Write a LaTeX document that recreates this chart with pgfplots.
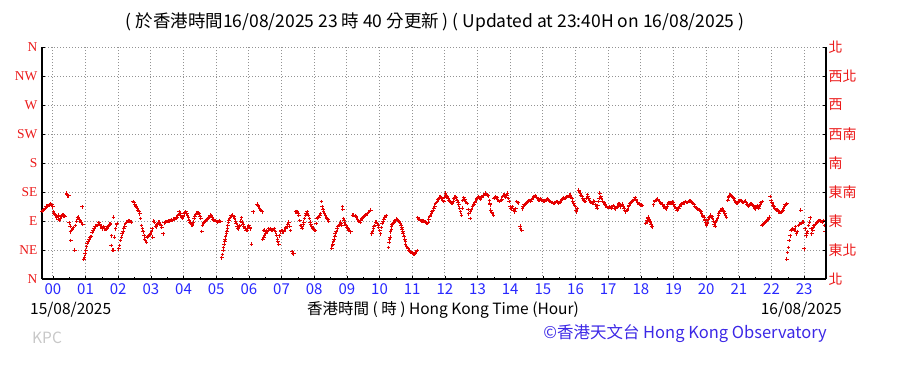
\documentclass[border=0pt]{standalone}
\usepackage{pgfplots}
\pgfplotsset{compat=1.18}
\usepackage{fontspec}
\setmainfont{Liberation Sans}
\newfontfamily\cjk{Noto Sans CJK TC}
\newfontfamily\ser{Liberation Serif}
\definecolor{hkred}{RGB}{228,0,0}
\definecolor{lblred}{RGB}{235,25,25}
\definecolor{hkblue}{RGB}{40,40,255}
\definecolor{cpblue}{RGB}{60,40,230}
\definecolor{kpc}{RGB}{200,200,200}
\pgfplotstableread{
h d
-0.33 105
-0.30 106
-0.27 108
-0.24 110
-0.21 112
-0.18 113
-0.15 113
-0.12 114
-0.09 115
-0.06 116
-0.03 115
0.00 112
0.02 105
0.04 101
0.06 100
0.08 99
0.10 98
0.12 95
0.14 97
0.16 99
0.18 93
0.20 91
0.22 94
0.25 97
0.28 99
0.31 100
0.34 98
0.37 97
0.42 133
0.44 131
0.46 129
0.49 129
0.50 87
0.53 82
0.54 73
0.55 60
0.57 76
0.60 77
0.63 80
0.67 45
0.69 83
0.72 90
0.75 95
0.78 96
0.81 93
0.84 90
0.87 88
0.90 112
0.92 85
0.95 31
0.97 34
0.99 39
1.01 44
1.03 50
1.05 55
1.08 58
1.11 62
1.14 65
1.17 66
1.20 72
1.23 75
1.26 78
1.29 81
1.32 82
1.36 83
1.39 85
1.41 87
1.44 85
1.46 83
1.49 80
1.51 78
1.54 80
1.56 81
1.59 78
1.61 77
1.64 78
1.66 79
1.69 81
1.71 83
1.74 85
1.77 86
1.78 52
1.80 67
1.82 45
1.84 45
1.85 96
1.87 45
1.89 65
1.92 78
1.95 84
1.97 86
2.02 47
2.04 52
2.07 60
2.10 65
2.12 70
2.15 74
2.17 78
2.20 82
2.22 86
2.25 88
2.28 89
2.31 90
2.33 91
2.36 90
2.38 89
2.41 88
2.46 120
2.49 118
2.51 115
2.54 113
2.56 112
2.59 109
2.61 107
2.64 104
2.66 101
2.68 94
2.71 83
2.74 78
2.76 73
2.79 67
2.81 62
2.84 60
2.86 57
2.89 65
2.91 66
2.94 67
2.97 69
2.99 70
3.02 74
3.04 78
3.06 65
3.08 90
3.11 88
3.14 82
3.16 81
3.19 84
3.21 86
3.24 88
3.26 88
3.29 85
3.31 83
3.34 80
3.38 70
3.41 87
3.44 88
3.46 88
3.49 89
3.51 89
3.54 90
3.56 90
3.59 91
3.61 91
3.64 92
3.66 91
3.69 93
3.72 93
3.74 94
3.77 94
3.79 96
3.82 96
3.84 100
3.87 104
3.90 101
3.92 99
3.95 96
3.97 94
4.00 97
4.02 101
4.05 103
4.07 104
4.10 102
4.12 99
4.15 95
4.17 91
4.20 88
4.22 86
4.25 84
4.27 83
4.30 88
4.32 94
4.35 97
4.38 100
4.40 102
4.43 103
4.45 102
4.48 101
4.51 97
4.53 94
4.56 74
4.58 83
4.61 86
4.63 88
4.66 90
4.68 91
4.71 92
4.73 93
4.76 95
4.78 96
4.81 98
4.83 99
4.86 98
4.88 96
4.91 93
4.93 91
4.96 91
4.98 91
5.01 89
5.04 88
5.06 89
5.09 91
5.11 90
5.14 89
5.17 33
5.19 38
5.21 44
5.22 49
5.24 54
5.26 58
5.27 62
5.29 66
5.31 70
5.33 74
5.34 78
5.36 83
5.37 88
5.39 91
5.41 94
5.44 96
5.46 98
5.49 99
5.51 99
5.54 97
5.56 94
5.59 90
5.61 86
5.64 82
5.66 79
5.68 78
5.70 81
5.72 83
5.74 90
5.77 95
5.80 88
5.82 85
5.85 81
5.87 80
5.90 78
5.92 76
5.95 75
5.97 79
6.00 83
6.03 80
6.05 78
6.08 54
6.13 104
6.25 116
6.28 114
6.30 112
6.33 110
6.36 108
6.38 106
6.41 104
6.43 62
6.46 65
6.48 67
6.51 70
6.53 73
6.46 75
6.49 76
6.54 75
6.56 73
6.59 76
6.61 78
6.64 77
6.66 78
6.69 76
6.71 75
6.74 77
6.77 78
6.79 76
6.82 73
6.84 68
6.87 62
6.89 58
6.92 54
6.94 67
6.97 73
6.99 75
7.02 75
7.04 73
7.07 73
7.09 76
7.12 78
7.14 80
7.17 81
7.19 84
7.22 88
7.25 82
7.27 75
7.32 42
7.35 40
7.38 39
7.43 104
7.46 105
7.48 104
7.51 101
7.53 99
7.56 91
7.58 83
7.61 81
7.63 79
7.66 84
7.68 88
7.70 94
7.73 99
7.75 102
7.78 104
7.80 102
7.83 99
7.85 94
7.88 88
7.90 85
7.93 81
7.95 79
7.98 78
8.01 76
8.04 75
8.06 86
8.09 94
8.11 95
8.14 96
8.17 99
8.19 101
8.22 120
8.24 112
8.27 108
8.29 104
8.32 101
8.34 99
8.37 96
8.39 94
8.42 92
8.44 90
8.54 48
8.56 52
8.57 54
8.59 58
8.61 62
8.63 66
8.64 70
8.67 74
8.70 78
8.72 81
8.75 83
8.77 85
8.80 88
8.82 86
8.85 83
8.87 112
8.88 108
8.90 94
8.92 91
8.93 88
8.96 85
8.98 83
9.01 80
9.03 78
9.05 76
9.08 75
9.10 74
9.12 73
9.18 99
9.21 99
9.25 98
9.28 97
9.30 96
9.33 93
9.36 91
9.38 89
9.41 88
9.43 91
9.46 94
9.48 95
9.51 96
9.53 97
9.56 99
9.59 100
9.63 101
9.66 103
9.69 105
9.71 106
9.73 107
9.76 70
9.78 74
9.81 78
9.83 81
9.86 83
9.88 88
9.91 88
9.93 86
9.96 83
9.98 80
10.01 75
10.03 70
10.06 80
10.08 86
10.11 90
10.13 93
10.16 96
10.18 97
10.21 98
10.27 49
10.29 57
10.31 62
10.32 65
10.34 73
10.36 77
10.37 81
10.39 84
10.41 86
10.44 88
10.46 89
10.49 91
10.51 93
10.54 92
10.56 91
10.59 89
10.61 88
10.64 86
10.66 83
10.68 80
10.69 77
10.71 73
10.72 70
10.75 66
10.77 62
10.79 58
10.80 54
10.83 51
10.85 49
10.88 47
10.90 45
10.93 43
10.95 42
10.98 41
11.00 40
11.03 39
11.05 39
11.08 39
11.10 40
11.13 42
11.15 44
11.17 95
11.20 93
11.23 93
11.26 91
11.28 90
11.31 89
11.33 91
11.36 90
11.38 89
11.41 88
11.44 87
11.46 86
11.49 88
11.51 93
11.54 97
11.56 99
11.59 102
11.61 104
11.64 107
11.66 109
11.69 113
11.71 117
11.74 119
11.77 121
11.79 123
11.82 125
11.84 127
11.87 128
11.89 126
11.92 125
11.94 122
11.97 120
12.00 127
12.02 133
12.05 130
12.07 128
12.10 125
12.12 122
12.15 121
12.17 120
12.20 118
12.22 117
12.25 121
12.28 125
12.30 127
12.33 128
12.35 126
12.38 122
12.41 118
12.43 115
12.46 110
12.48 104
12.51 99
12.53 110
12.55 122
12.58 126
12.61 123
12.63 121
12.66 119
12.68 117
12.71 108
12.73 101
12.77 94
12.79 104
12.82 108
12.84 112
12.87 114
12.89 115
12.92 118
12.94 120
12.97 123
12.99 125
13.02 127
13.04 128
13.07 126
13.09 124
13.12 126
13.14 128
13.17 129
13.19 130
13.22 131
13.24 133
13.27 131
13.30 130
13.32 129
13.34 129
13.36 122
13.38 117
13.39 115
13.41 107
13.44 103
13.46 101
13.49 99
13.51 125
13.54 127
13.56 128
13.59 126
13.61 124
13.64 122
13.66 120
13.69 122
13.72 122
13.74 124
13.77 128
13.79 130
13.82 130
13.85 129
13.87 127
13.90 130
13.92 133
13.95 125
13.97 120
14.00 112
14.02 110
14.04 109
14.07 112
14.10 107
14.12 106
14.14 104
14.17 109
14.20 120
14.22 119
14.24 118
14.30 82
14.32 78
14.36 75
14.38 109
14.40 112
14.43 115
14.46 116
14.48 117
14.51 118
14.53 120
14.56 121
14.58 122
14.61 121
14.63 120
14.66 123
14.68 125
14.71 127
14.73 128
14.76 129
14.78 129
14.81 127
14.83 125
14.86 124
14.88 122
14.91 123
14.93 124
14.96 123
14.98 122
15.01 121
15.04 121
15.06 122
15.09 122
15.11 123
15.14 124
15.16 123
15.19 122
15.21 121
15.24 120
15.26 119
15.29 119
15.32 117
15.34 117
15.37 118
15.39 119
15.42 120
15.44 120
15.47 118
15.49 117
15.52 119
15.54 120
15.57 122
15.59 124
15.62 125
15.64 126
15.67 125
15.70 126
15.72 127
15.75 128
15.77 128
15.80 129
15.82 130
15.85 130
15.87 127
15.90 125
15.92 121
15.95 117
15.97 114
16.00 112
16.02 106
16.03 104
16.05 109
16.10 138
16.12 135
16.15 133
16.17 130
16.20 128
16.22 125
16.25 122
16.27 121
16.30 120
16.33 125
16.36 131
16.38 128
16.41 125
16.43 122
16.46 120
16.48 119
16.51 117
16.54 118
16.56 121
16.59 120
16.61 115
16.64 113
16.66 110
16.68 114
16.71 120
16.72 125
16.74 133
16.77 128
16.79 125
16.82 121
16.84 120
16.87 118
16.90 116
16.92 115
16.95 113
16.97 111
17.00 111
17.03 112
17.05 112
17.08 111
17.10 110
17.13 112
17.15 114
17.18 112
17.20 110
17.23 109
17.26 111
17.28 113
17.31 114
17.33 117
17.36 116
17.39 112
17.41 114
17.44 116
17.46 112
17.49 110
17.51 107
17.54 104
17.57 106
17.59 108
17.62 112
17.64 114
17.67 117
17.69 118
17.72 120
17.74 121
17.77 122
17.80 124
17.82 126
17.85 124
17.87 122
17.90 119
17.93 117
17.95 116
17.98 115
18.01 115
18.04 114
18.15 86
18.17 88
18.19 91
18.21 94
18.22 96
18.24 93
18.26 91
18.28 89
18.29 88
18.31 85
18.32 84
18.34 82
18.36 81
18.39 115
18.42 120
18.44 122
18.46 122
18.49 123
18.52 124
18.54 122
18.57 121
18.60 119
18.62 117
18.65 116
18.67 115
18.70 112
18.72 112
18.75 110
18.77 109
18.80 113
18.82 115
18.84 118
18.86 119
18.89 118
18.91 117
18.93 118
18.96 120
18.98 118
19.01 116
19.03 113
19.06 111
19.08 109
19.11 107
19.13 109
19.16 110
19.19 113
19.22 115
19.24 116
19.27 117
19.29 118
19.32 119
19.35 118
19.37 120
19.40 119
19.42 119
19.45 120
19.47 120
19.50 121
19.53 121
19.55 120
19.58 119
19.60 117
19.63 115
19.65 113
19.68 111
19.70 110
19.73 109
19.76 108
19.78 107
19.81 106
19.84 104
19.86 102
19.89 99
19.91 97
19.94 96
19.96 93
19.97 91
19.99 87
20.01 83
20.03 86
20.04 88
20.07 93
20.09 96
20.12 97
20.14 99
20.17 97
20.19 94
20.22 90
20.24 85
20.27 82
20.29 88
20.32 91
20.34 94
20.37 98
20.39 101
20.42 104
20.44 107
20.47 108
20.49 109
20.52 106
20.54 104
20.57 101
20.59 99
20.62 96
20.66 122
20.68 126
20.70 128
20.72 130
20.75 130
20.77 129
20.80 128
20.82 126
20.85 125
20.87 122
20.90 120
20.92 118
20.95 117
20.97 119
21.00 121
21.02 122
21.05 122
21.07 121
21.10 120
21.12 119
21.15 119
21.17 120
21.20 121
21.22 118
21.25 116
21.28 114
21.30 113
21.33 114
21.36 117
21.38 116
21.41 115
21.43 114
21.46 112
21.48 110
21.51 109
21.53 111
21.56 114
21.58 112
21.61 110
21.63 113
21.66 115
21.68 118
21.71 120
21.71 83
21.74 85
21.76 86
21.79 87
21.81 88
21.84 90
21.86 91
21.89 93
21.91 94
21.94 96
21.96 128
21.99 122
22.01 119
22.03 117
22.05 114
22.07 112
22.10 110
22.12 108
22.15 107
22.17 107
22.20 106
22.22 104
22.25 103
22.27 103
22.30 104
22.32 105
22.35 107
22.37 109
22.40 112
22.42 115
22.45 116
22.47 117
22.47 31
22.49 41
22.52 49
22.54 60
22.57 67
22.60 75
22.62 77
22.65 78
22.68 77
22.70 75
22.73 81
22.76 70
22.78 74
22.80 73
22.83 83
22.85 85
22.88 86
22.90 107
22.93 86
22.95 88
22.98 88
23.00 47
23.03 78
23.06 67
23.08 70
23.10 73
23.13 83
23.16 88
23.18 95
23.21 78
23.23 70
23.26 75
23.28 80
23.30 83
23.33 85
23.37 86
23.39 87
23.41 88
23.44 90
23.46 91
23.49 90
23.51 89
23.54 89
23.56 88
23.59 91
23.62 83
23.64 73
}\wind
\begin{document}
\begin{tikzpicture}[x=1pt,y=1pt]
\useasboundingbox (0,0) rectangle (904,384);
\begin{axis}[
  at={(42pt,105pt)}, anchor=south west,
  scale only axis, width=784pt, height=232pt,
  xmin=-0.333, xmax=23.667, ymin=0, ymax=360,
  axis x line*=bottom, axis y line*=left,
  axis line style={-, line width=1.2pt, black},
  xtick={0,...,23},
  xticklabels={00,01,02,03,04,05,06,07,08,09,10,11,12,13,14,15,16,17,18,19,20,21,22,23},
  minor x tick num=1,
  ytick={0,45,...,360},
  yticklabels={N,NE,E,SE,S,SW,W,NW,N},
  tick align=inside,
  major tick length=3pt, minor tick length=2pt,
  tick style={black, line width=0.6pt},
  grid=major,
  major grid style={gray!85, line width=0.8pt, dash pattern=on 1.2pt off 1.8pt},
  xticklabel style={font=\cjk\fontsize{15}{15}\selectfont, text=hkblue, yshift=-1pt},
  yticklabel style={font=\ser\fontsize{13.5}{13.5}\selectfont, text=lblred, xshift=-1pt},
  clip=false,
]
\addplot[only marks, mark=+, mark size=1.8pt, hkred, mark options={line width=1pt}] table[x=h, y=d] {\wind};
\end{axis}
\begin{axis}[
  at={(42pt,105pt)}, anchor=south west,
  scale only axis, width=784pt, height=232pt,
  xmin=-0.333, xmax=23.667, ymin=0, ymax=360,
  axis x line=none, axis y line*=right,
  axis line style={-, line width=1.2pt, black},
  ytick={0,45,...,360},
  yticklabels={北,東北,東,東南,南,西南,西,西北,北},
  tick align=inside, major tick length=3pt,
  tick style={black, line width=0.6pt},
  yticklabel style={font=\cjk\fontsize{14}{14}\selectfont, text=lblred, xshift=-1pt},
]
\end{axis}
\node[font=\cjk\fontsize{17.5}{17.5}\selectfont] at (435,362) {( 於香港時間16/08/2025 23 時 40 分更新 ) ( Updated at 23:40H on 16/08/2025 )};
\node[font=\cjk\fontsize{15.5}{15.5}\selectfont, anchor=west, inner sep=0pt] at (30,74) {15/08/2025};
\node[font=\cjk\fontsize{15.5}{15.5}\selectfont, inner sep=0pt] at (443,74) {香港時間 ( 時 )  Hong Kong Time (Hour)};
\node[font=\cjk\fontsize{15.5}{15.5}\selectfont, anchor=east, inner sep=0pt] at (842,74) {16/08/2025};
\node[font=\cjk\fontsize{15.5}{15.5}\selectfont, anchor=west, inner sep=0pt, text=kpc] at (32,46) {KPC};
\node[font=\cjk\fontsize{16.5}{16.5}\selectfont, anchor=east, inner sep=0pt, text=cpblue] at (827,50) {©香港天文台 Hong Kong Observatory};
\end{tikzpicture}
\end{document}
